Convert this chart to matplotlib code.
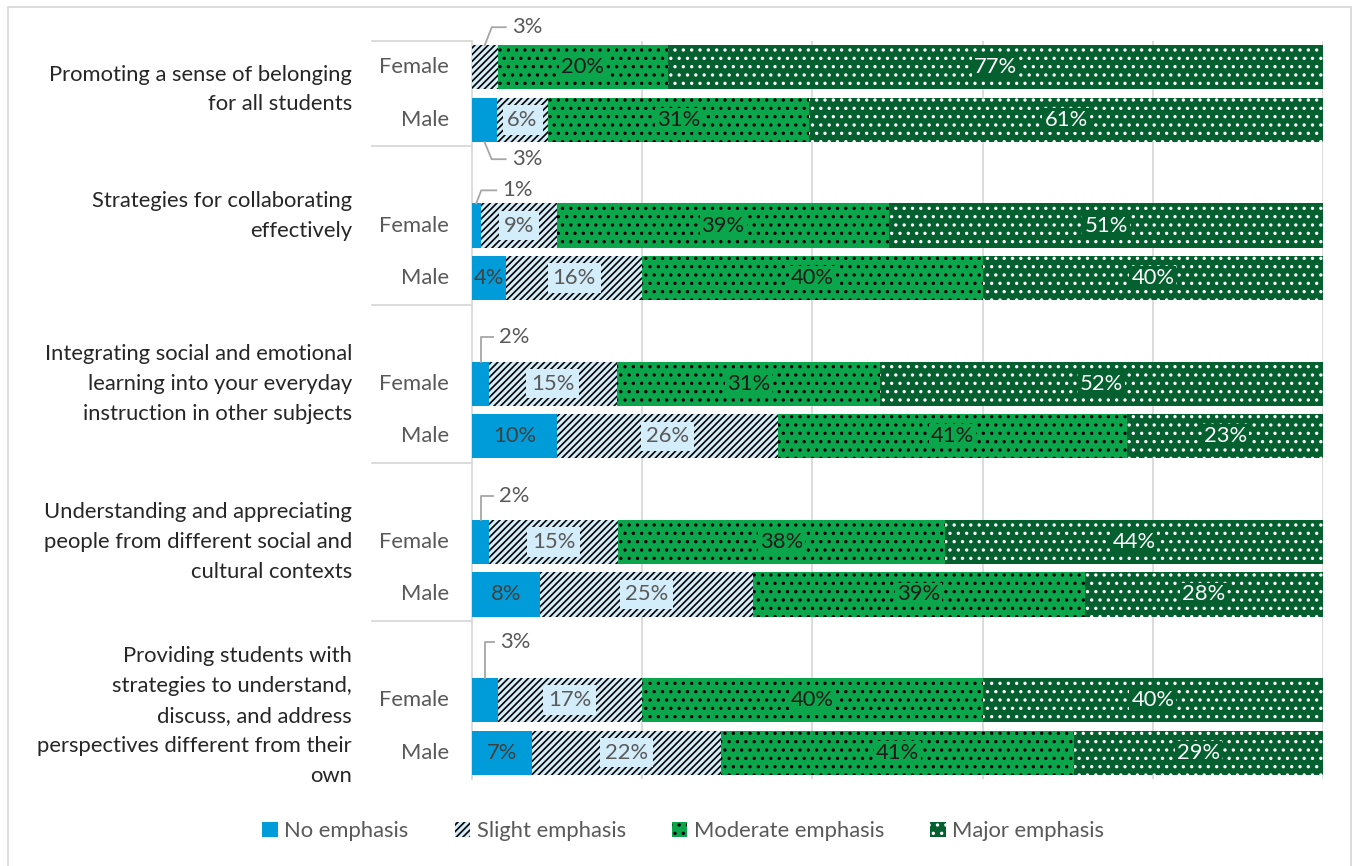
import matplotlib.pyplot as plt
import matplotlib.transforms as mtransforms
from matplotlib.patches import Patch, Rectangle
from matplotlib.lines import Line2D

plt.rcParams['font.family'] = ['Lato', 'DejaVu Sans']
plt.rcParams['hatch.linewidth'] = 1.2

# ---------------------------------------------------------------------------
# data
# ---------------------------------------------------------------------------
topics = [
    "Promoting a sense of belonging\nfor all students",
    "Strategies for collaborating\neffectively",
    "Integrating social and emotional\nlearning into your everyday\ninstruction in other subjects",
    "Understanding and appreciating\npeople from different social and\ncultural contexts",
    "Providing students with\nstrategies to understand,\ndiscuss, and address\nperspectives different from their\nown",
]
genders = ["Female", "Male"]
levels = ["No emphasis", "Slight emphasis", "Moderate emphasis", "Major emphasis"]

# rows: topic1 Female, topic1 Male, topic2 Female, ...
no_emphasis = [0, 3, 1, 4, 2, 10, 2, 8, 3, 7]
slight_emphasis = [3, 6, 9, 16, 15, 26, 15, 25, 17, 22]
moderate_emphasis = [20, 31, 39, 40, 31, 41, 38, 39, 40, 41]
major_emphasis = [77, 61, 51, 40, 52, 23, 44, 28, 40, 29]

series = [no_emphasis, slight_emphasis, moderate_emphasis, major_emphasis]

# ---------------------------------------------------------------------------
# style
# ---------------------------------------------------------------------------
face = ["#009CD9", "#D4EDFA", "#0BA64B", "#05602F"]
hatch = [None, "/////", "..", ".."]
hatch_col = ["#009CD9", "black", "black", "white"]
label_col = ["#404040", "#595959", "#1A1A1A", "white"]
label_box = [None, "#D4EDFA", "#0BA64B", "#05602F"]
box_pad = [0, 3.5, 1.5, 1.5]
grid_col = "#D9D9D9"
leader_col = "#A6A6A6"
fs = 15.8

# group label vertical offset (rows) relative to the Female row
topic_offset = [0.42, -0.18, 0.0, 0.0, 0.3]

# small values get a leader line: row -> (series index, path in px, y down)
leaders = {
    0: (1, "top", [(0, 0), (7, -18), (21, -18)]),
    1: (0, "bottom", [(0, 0), (7, 17), (21, 17)]),
    2: (0, "top", [(0, 0), (5, -13), (20, -13)]),
    4: (0, "top", [(0, 0), (0, -25), (12, -25)]),
    6: (0, "top", [(0, 0), (0, -24), (12, -24)]),
    8: (0, "top", [(0, 0), (0, -36), (9, -36)]),
}

fig = plt.figure(figsize=(13.53, 8.66), dpi=100)
ax = fig.add_axes([472 / 1353, 1 - 779 / 866, 851 / 1353, 738 / 866])

n_rows = len(no_emphasis)
ypos = [3 * (i // 2) + (i % 2) for i in range(n_rows)]
bar_h = 0.84

totals = [sum(s[i] for s in series) for i in range(n_rows)]
lefts = [0.0] * n_rows
seg_info = []  # (row, series, left, width)
for k, vals in enumerate(series):
    widths = [100.0 * v / t for v, t in zip(vals, totals)]
    ax.barh(ypos, widths, left=lefts, height=bar_h, color=face[k],
            edgecolor=hatch_col[k], linewidth=0, hatch=hatch[k], zorder=3)
    for i in range(n_rows):
        seg_info.append((i, k, lefts[i], widths[i]))
    lefts = [l + w for l, w in zip(lefts, widths)]

ax.set_xlim(0, 100)
ax.set_ylim(13.5, -0.5)

# grid and spines
ax.set_xticks([20, 40, 60, 80, 100])
ax.set_xticklabels([])
ax.set_yticks([])
ax.tick_params(length=0)
ax.grid(axis="x", color=grid_col, linewidth=1.3, zorder=0)
for s in ["top", "right", "bottom"]:
    ax.spines[s].set_visible(False)
ax.spines["left"].set_color(grid_col)
ax.spines["left"].set_linewidth(1.3)

# data labels
for i, k, left, width in seg_info:
    val = series[k][i]
    if val == 0 or i in leaders and leaders[i][0] == k:
        continue
    bbox = None
    if label_box[k]:
        bbox = dict(facecolor=label_box[k], edgecolor="none", pad=box_pad[k])
    ax.text(left + width / 2, ypos[i], f"{val}%", ha="center", va="center",
            fontsize=fs, color=label_col[k], zorder=5, bbox=bbox)

# leader labels
fig.canvas.draw()
inv = ax.transData.inverted()
for i, (k, side, path) in leaders.items():
    seg = [s for s in seg_info if s[0] == i and s[1] == k][0]
    y_edge = ypos[i] - bar_h / 2 if side == "top" else ypos[i] + bar_h / 2
    x0, y0 = ax.transData.transform((seg[2] + seg[3] / 2, y_edge))
    pts = [inv.transform((x0 + dx, y0 - dy)) for dx, dy in path]
    ax.plot([p[0] for p in pts], [p[1] for p in pts], color=leader_col,
            linewidth=1.3, clip_on=False, zorder=4)
    tx, ty = inv.transform((x0 + path[-1][0] + 6, y0 - path[-1][1]))
    ax.text(tx, ty, f"{series[k][i]}%", ha="left", va="center",
            fontsize=fs, color="#595959", clip_on=False)

# category labels (two levels) and table lines
trans = mtransforms.blended_transform_factory(fig.transFigure, ax.transData)
for g, topic in enumerate(topics):
    ax.text(352 / 1353, 3 * g + topic_offset[g], topic, transform=trans,
            ha="right", va="center", fontsize=fs, color="#262626",
            linespacing=1.62)
for i in range(n_rows):
    ax.text(449 / 1353, ypos[i], genders[i % 2], transform=trans,
            ha="right", va="center", fontsize=fs, color="#595959")
for yb in [-0.5, 1.5, 4.5, 7.5, 10.5]:
    ax.add_line(Line2D([372 / 1353, 472 / 1353], [yb, yb], transform=trans,
                       color=grid_col, linewidth=1.3, clip_on=False))

# legend
handles = [Patch(facecolor=face[k], edgecolor=hatch_col[k], linewidth=0,
                 hatch=hatch[k]) for k in range(4)]
fig.legend(handles, levels, loc="center", bbox_to_anchor=(0.505, 0.04),
           ncol=4, frameon=False, fontsize=fs, handlelength=0.7,
           handleheight=0.7, handletextpad=0.3, columnspacing=2.1,
           labelcolor="#595959")

# outer chart border
fig.patches.append(Rectangle((8 / 1353, -0.01), 1343 / 1353, 1 - 7 / 866 + 0.01,
                             transform=fig.transFigure, fill=False,
                             edgecolor=grid_col, linewidth=1.3))

fig.savefig("out.png", dpi=100, facecolor="white")
